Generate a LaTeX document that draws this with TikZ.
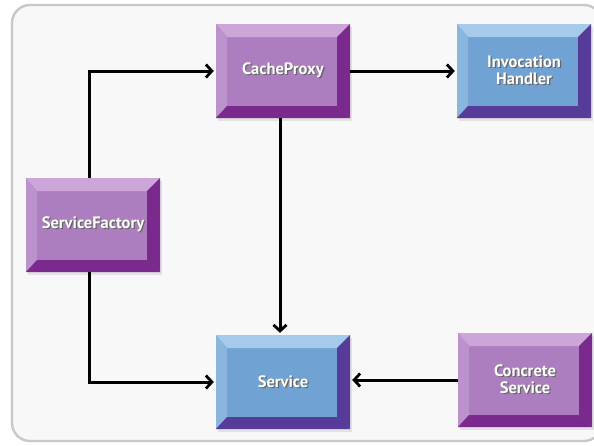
\documentclass[tikz,border=0pt]{standalone}
\usepackage{fontspec}
\setmainfont{PT Sans}
\usetikzlibrary{arrows.meta,calc,shadows}

% colour scheme of the bevelled boxes
\definecolor{purpleface}{RGB}{172,126,192}
\definecolor{purplelight}{RGB}{204,166,216}
\definecolor{purpleside}{RGB}{188,146,204}
\definecolor{purpledark}{RGB}{122,42,140}
\definecolor{blueface}{RGB}{112,162,212}
\definecolor{bluelight}{RGB}{166,202,234}
\definecolor{blueside}{RGB}{138,182,222}
\definecolor{bluedark}{RGB}{86,60,152}
\definecolor{framegrey}{RGB}{200,200,200}
\definecolor{paper}{RGB}{248,248,248}

% white label with a soft dark offset copy behind it
\newcommand\shtext[1]{\leavevmode\rlap{\hspace{1.3pt}\raisebox{-1.3pt}{\textcolor{black!60}{#1}}}\textcolor{white}{#1}}

\tikzset{
  bevelbox/.style n args={4}{
    minimum width=134pt, minimum height=94pt, inner sep=0pt,
    align=center, font=\fontsize{16.5}{17}\selectfont\bfseries,
    fill=#1,
    drop shadow={opacity=0.18, shadow xshift=2pt, shadow yshift=-3pt},
    path picture={
      \coordinate (bsw) at (path picture bounding box.south west);
      \coordinate (bne) at (path picture bounding box.north east);
      \coordinate (bnw) at (bsw |- bne);
      \coordinate (bse) at (bne |- bsw);
      \fill[#2] (bnw) -- (bne) -- ($(bne)+(-13pt,-13pt)$) -- ($(bnw)+(11pt,-13pt)$) -- cycle;
      \fill[#3] (bnw) -- ($(bnw)+(11pt,-13pt)$) -- ($(bsw)+(11pt,12pt)$) -- (bsw) -- cycle;
      \fill[#4] (bne) -- (bse) -- ($(bse)+(-13pt,12pt)$) -- ($(bne)+(-13pt,-13pt)$) -- cycle;
      \fill[#4] (bsw) -- (bse) -- ($(bse)+(-13pt,12pt)$) -- ($(bsw)+(11pt,12pt)$) -- cycle;
    }
  },
  purplebox/.style={bevelbox={purpleface}{purplelight}{purpleside}{purpledark}},
  bluebox/.style={bevelbox={blueface}{bluelight}{blueside}{bluedark}},
  link/.style={line width=3pt, -{Straight Barb[length=6pt,width=13pt,line width=2.8pt]}, shorten >=2pt}
}

\begin{document}
\begin{tikzpicture}[x=1pt,y=-1pt]
  \useasboundingbox (0,0) rectangle (594,445);
  \begin{scope}
    \clip (0,0) rectangle (594,445);
    \draw[framegrey, line width=2.4pt, fill=paper, rounded corners=18pt] (12,5) rectangle (602,441);
  \end{scope}

  \node[purplebox] (proxy)   at (283,71)  {\shtext{CacheProxy}};
  \node[bluebox]   (handler) at (524,71)  {\shtext{Invocation}\\\shtext{Handler}};
  \node[purplebox] (factory) at (93,225)  {\shtext{ServiceFactory}};
  \node[bluebox]   (service) at (283,382) {\shtext{Service}};
  \node[purplebox] (concrete) at (525,380) {\shtext{Concrete}\\\shtext{Service}};

  \draw[link] ([xshift=-4pt]factory.north) |- (proxy.west);
  \draw[link] ([xshift=-4pt]factory.south) |- (service.west);
  \draw[link] (proxy.east) -- (handler.west);
  \draw[link] ([xshift=-3pt]proxy.south) -- ([xshift=-3pt]service.north);
  \draw[link] (concrete.west) -- (concrete.west -| service.east);
\end{tikzpicture}
\end{document}
